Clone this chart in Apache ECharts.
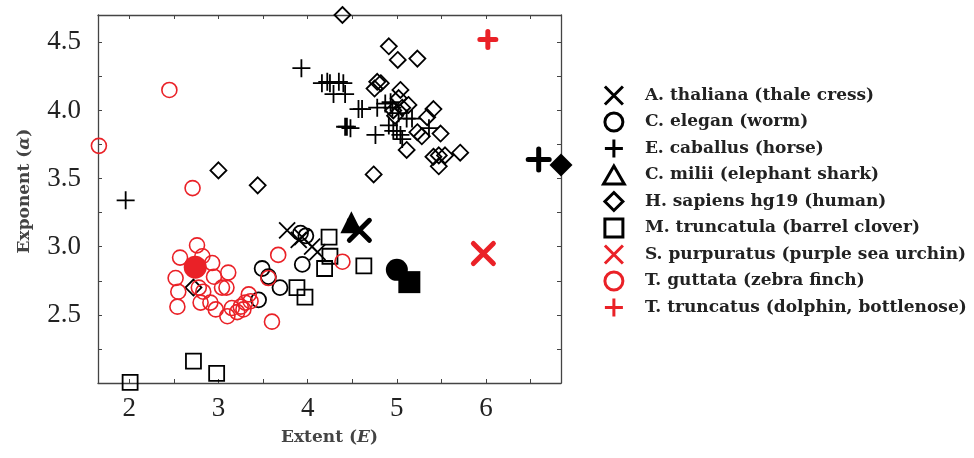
<!DOCTYPE html>
<html>
<head>
<meta charset="utf-8">
<script src="https://cdn.jsdelivr.net/npm/echarts@6/dist/echarts.min.js"></script>
<style>
  html, body { margin: 0; padding: 0; background: #fff; }
  #chart { width: 974px; height: 458px; }
</style>
</head>
<body>
<div id="chart"></div>
<script>
// Extent vs exponent, one marker shape per species

var speciesNames = [
  'A. thaliana (thale cress)',
  'C. elegan (worm)',
  'E. caballus (horse)',
  'C. milii (elephant shark)',
  'H. sapiens hg19 (human)',
  'M. truncatula (barrel clover)',
  'S. purpuratus (purple sea urchin)',
  'T. guttata (zebra finch)',
  'T. truncatus (dolphin, bottlenose)'
];

// [extent, exponent]
var thaliana = [[3.77, 3.12], [3.90, 3.05], [3.94, 3.07], [4.05, 3.00], [4.11, 2.96]];
var elegan = [[3.49, 2.84], [3.56, 2.78], [3.69, 2.70], [3.45, 2.61], [3.94, 2.87], [3.92, 3.10], [3.98, 3.08]];
var caballus = [
  [1.96, 3.34], [3.93, 4.31], [4.16, 4.20], [4.22, 4.21], [4.25, 4.20], [4.35, 4.21], [4.40, 4.20],
  [4.29, 4.12], [4.42, 4.12], [4.57, 4.01], [4.61, 4.01], [4.78, 4.02], [4.87, 4.05], [4.93, 4.06],
  [4.42, 3.88], [4.44, 3.88], [4.48, 3.87], [4.76, 3.82], [4.91, 3.89], [4.96, 3.85], [5.00, 3.85],
  [5.04, 3.82], [5.06, 3.79], [5.11, 3.94], [5.17, 3.94], [5.36, 3.87], [4.95, 4.02], [5.02, 3.98]
];
var milii = [];
var sapiens = [
  [4.39, 4.70], [4.91, 4.47], [5.01, 4.37], [5.23, 4.38], [4.78, 4.21], [4.75, 4.16], [4.82, 4.20],
  [5.04, 4.15], [5.02, 4.09], [5.13, 4.04], [4.96, 4.00], [5.06, 4.02], [4.98, 3.96], [5.41, 4.01],
  [5.34, 3.95], [5.23, 3.84], [5.28, 3.81], [5.49, 3.83], [5.11, 3.71], [5.41, 3.66], [5.47, 3.67],
  [5.54, 3.67], [5.71, 3.69], [5.47, 3.59], [4.74, 3.53], [3.00, 3.56], [3.44, 3.45], [2.72, 2.70]
];
var truncatula = [[4.24, 3.07], [4.25, 2.93], [4.19, 2.84], [4.63, 2.86], [3.88, 2.70], [3.97, 2.63], [2.72, 2.16], [2.98, 2.07], [2.01, 2.005]];
var purpuratus = [];
var guttata = [
  [2.45, 4.15], [1.66, 3.74], [2.71, 3.43], [2.76, 3.01], [2.57, 2.92], [2.82, 2.93], [2.93, 2.88],
  [3.11, 2.81], [2.52, 2.77], [2.95, 2.78], [2.55, 2.67], [2.78, 2.70], [2.83, 2.67], [3.04, 2.70],
  [3.09, 2.70], [2.54, 2.56], [2.80, 2.59], [2.91, 2.59], [2.97, 2.54], [3.10, 2.49], [3.15, 2.55],
  [3.25, 2.56], [3.30, 2.59], [3.34, 2.65], [3.28, 2.54], [3.21, 2.52], [3.36, 2.60], [3.67, 2.94],
  [3.56, 2.77], [3.60, 2.45], [4.39, 2.89]
];
var truncatus = [];

// big filled markers, one per species
var thalianaMain = [4.58, 3.12];
var eleganMain = [5.00, 2.83];
var caballusMain = [6.59, 3.64];
var miliiMain = [4.49, 3.18];
var sapiensMain = [6.84, 3.60];
var truncatulaMain = [5.14, 2.74];
var purpuratusMain = [5.97, 2.95];
var guttataMain = [2.74, 2.85];
var truncatusMain = [6.02, 4.52];

var xTicks = [2, 2.5, 3, 3.5, 4, 4.5, 5, 5.5, 6, 6.5];
var xTickLabels = [2, 3, 4, 5, 6];
var yTicks = [2.25, 2.5, 2.75, 3, 3.25, 3.5, 3.75, 4, 4.25, 4.5];
var yTickLabels = [2.5, 3, 3.5, 4, 4.5];

var RED = '#ea2127';
var X_ICON = 'path://M0,0L10,10M10,0L0,10';
var PLUS_ICON = 'path://M5,0L5,10M0,5L10,5';
var TRI_ICON = 'path://M5,0L10,8.66L0,8.66Z';
var DIAMOND_ICON = 'path://M5,0L10,5L5,10L0,5Z';
var SQUARE_ICON = 'path://M0,0L10,0L10,10L0,10Z';

function hollow(name, data, symbol, size, color, width) {
  return {
    name: name, type: 'scatter', data: data, symbol: symbol, symbolSize: size,
    clip: false, silent: true,
    itemStyle: { color: 'transparent', borderColor: color, borderWidth: width, opacity: 1 }
  };
}

function solid(name, point, symbol, size, color, lined) {
  return {
    name: name, type: 'scatter', data: [point], symbol: symbol, symbolSize: size,
    clip: false, silent: true, z: 5,
    itemStyle: lined
      ? { color: 'transparent', borderColor: color, borderWidth: 5, borderCap: 'round', opacity: 1 }
      : { color: color, borderWidth: 0, opacity: 1 }
  };
}

var series = [
  hollow(speciesNames[0], thaliana, X_ICON, 16, '#000', 1.8),
  hollow(speciesNames[1], elegan, 'circle', 15, '#000', 1.8),
  hollow(speciesNames[2], caballus, PLUS_ICON, 18, '#000', 1.8),
  hollow(speciesNames[3], milii, TRI_ICON, 16, '#000', 1.8),
  hollow(speciesNames[4], sapiens, 'diamond', 16, '#000', 1.8),
  hollow(speciesNames[5], truncatula, 'rect', 15, '#000', 1.8),
  hollow(speciesNames[6], purpuratus, X_ICON, 16, RED, 1.8),
  hollow(speciesNames[7], guttata, 'circle', 15, RED, 1.6),
  hollow(speciesNames[8], truncatus, PLUS_ICON, 18, RED, 1.8),
  solid(speciesNames[0], thalianaMain, X_ICON, 20, '#000', true),
  solid(speciesNames[1], eleganMain, 'circle', 22, '#000', false),
  solid(speciesNames[2], caballusMain, PLUS_ICON, 21, '#000', true),
  solid(speciesNames[3], miliiMain, TRI_ICON, 22, '#000', false),
  solid(speciesNames[4], sapiensMain, 'diamond', 23, '#000', false),
  solid(speciesNames[5], truncatulaMain, 'rect', 22, '#000', false),
  solid(speciesNames[6], purpuratusMain, X_ICON, 20, RED, true),
  solid(speciesNames[7], guttataMain, 'circle', 23, RED, false),
  solid(speciesNames[8], truncatusMain, PLUS_ICON, 16, RED, true)
];

var legendIcons = [X_ICON, 'circle', PLUS_ICON, TRI_ICON, DIAMOND_ICON, SQUARE_ICON, X_ICON, 'circle', PLUS_ICON];
var legendColors = ['#000', '#000', '#000', '#000', '#000', '#000', RED, RED, RED];

var serif = 'DejaVu Serif';
var tickFont = 'Liberation Serif';

function frameAxis(pos, min, max, ticks, labels, fmt, show) {
  return {
    type: 'value', position: pos, min: min, max: max,
    splitLine: { show: false },
    axisLine: { show: true, onZero: false, lineStyle: { color: '#444', width: 1.3 } },
    axisTick: { show: true, inside: true, length: 4, customValues: ticks, lineStyle: { color: '#444', width: 1 } },
    axisLabel: {
      show: show, customValues: labels, formatter: fmt,
      fontFamily: tickFont, fontSize: 27, color: '#222',
      margin: (pos === 'left' ? 17 : 12)
    }
  };
}

var xBottom = frameAxis('bottom', 1.65, 6.84, xTicks, xTickLabels, function (v) { return String(v); }, true);
xBottom.name = 'Extent ({it|E})';
xBottom.nameLocation = 'middle';
xBottom.nameGap = 46;
xBottom.nameTextStyle = {
  fontFamily: serif, fontWeight: 'bold', fontSize: 17, color: '#444',
  rich: { it: { fontFamily: serif, fontStyle: 'italic', fontSize: 17, color: '#444' } }
};
var xTop = frameAxis('top', 1.65, 6.84, xTicks, xTickLabels, null, false);

var yLeft = frameAxis('left', 2.0, 4.7, yTicks, yTickLabels, function (v) { return v.toFixed(1); }, true);
yLeft.name = 'Exponent ({it|α})';
yLeft.nameLocation = 'middle';
yLeft.nameGap = 65;
yLeft.nameTextStyle = {
  fontFamily: serif, fontWeight: 'bold', fontSize: 17, color: '#444',
  padding: [0, 0, 0, 16],
  rich: { it: { fontFamily: serif, fontStyle: 'italic', fontSize: 17, color: '#444' } }
};
var yRight = frameAxis('right', 2.0, 4.7, yTicks, yTickLabels, null, false);

var myChart = echarts.init(document.getElementById('chart'), null, { renderer: 'canvas' });

var option = {
  animation: false,
  backgroundColor: '#fff',
  grid: { left: 98, top: 15, width: 463, height: 368, containLabel: false, outerBoundsMode: 'none' },
  xAxis: [xBottom, xTop],
  yAxis: [yLeft, yRight],
  legend: {
    orient: 'vertical',
    left: 597,
    top: 80,
    itemWidth: 52,
    itemHeight: 18,
    itemGap: 5.5,
    selectedMode: false,
    symbolKeepAspect: true,
    textStyle: { fontFamily: serif, fontWeight: 'bold', fontSize: 17, color: '#222' },
    data: speciesNames.map(function (n, i) {
      return {
        name: n,
        icon: legendIcons[i],
        itemStyle: { color: 'transparent', borderColor: legendColors[i], borderWidth: 3, opacity: 1 }
      };
    })
  },
  series: series
};

myChart.setOption(option);
</script>
</body>
</html>
